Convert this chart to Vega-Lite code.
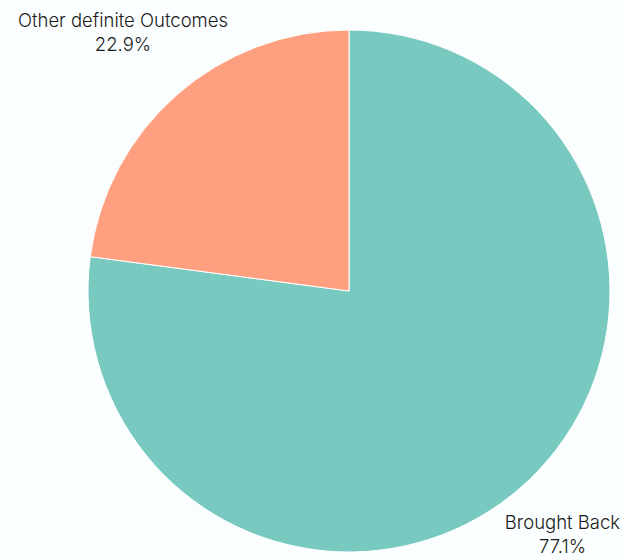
{
  "$schema": "https://vega.github.io/schema/vega-lite/v6.json",
  "width": 548,
  "height": 534,
  "autosize": "none",
  "padding": {"left": 75, "top": 24, "right": 0, "bottom": 0},
  "background": "#fbfefe",
  "config": {"view": {"stroke": null}},
  "data": {"values": [
    {"cat": "Brought Back", "value": 77.1, "pct": "77.1%", "order": 1},
    {"cat": "Other definite Outcomes", "value": 22.9, "pct": "22.9%", "order": 2}
  ]},
  "encoding": {
    "theta": {"field": "value", "type": "quantitative", "stack": true},
    "order": {"field": "order", "type": "quantitative"}
  },
  "layer": [
    {
      "mark": {"type": "arc", "radius": 261, "stroke": "#ffffff", "strokeWidth": 1},
      "encoding": {
        "color": {"field": "cat", "type": "nominal", "legend": null,
          "scale": {"domain": ["Brought Back", "Other definite Outcomes"], "range": ["#78cac0", "#fea07f"]}}
      }
    },
    {
      "mark": {"type": "text", "font": "Inter", "fontSize": 18.5, "fontWeight": 300, "color": "#1a1a1a",
        "radius": {"expr": "datum.cat == 'Brought Back' ? 324 : 343"}, "dy": -12},
      "encoding": {"text": {"field": "cat", "type": "nominal"}}
    },
    {
      "mark": {"type": "text", "font": "Inter", "fontSize": 18.5, "fontWeight": 300, "color": "#1a1a1a",
        "radius": {"expr": "datum.cat == 'Brought Back' ? 324 : 343"}, "dy": 12},
      "encoding": {"text": {"field": "pct", "type": "nominal"}}
    }
  ]
}
